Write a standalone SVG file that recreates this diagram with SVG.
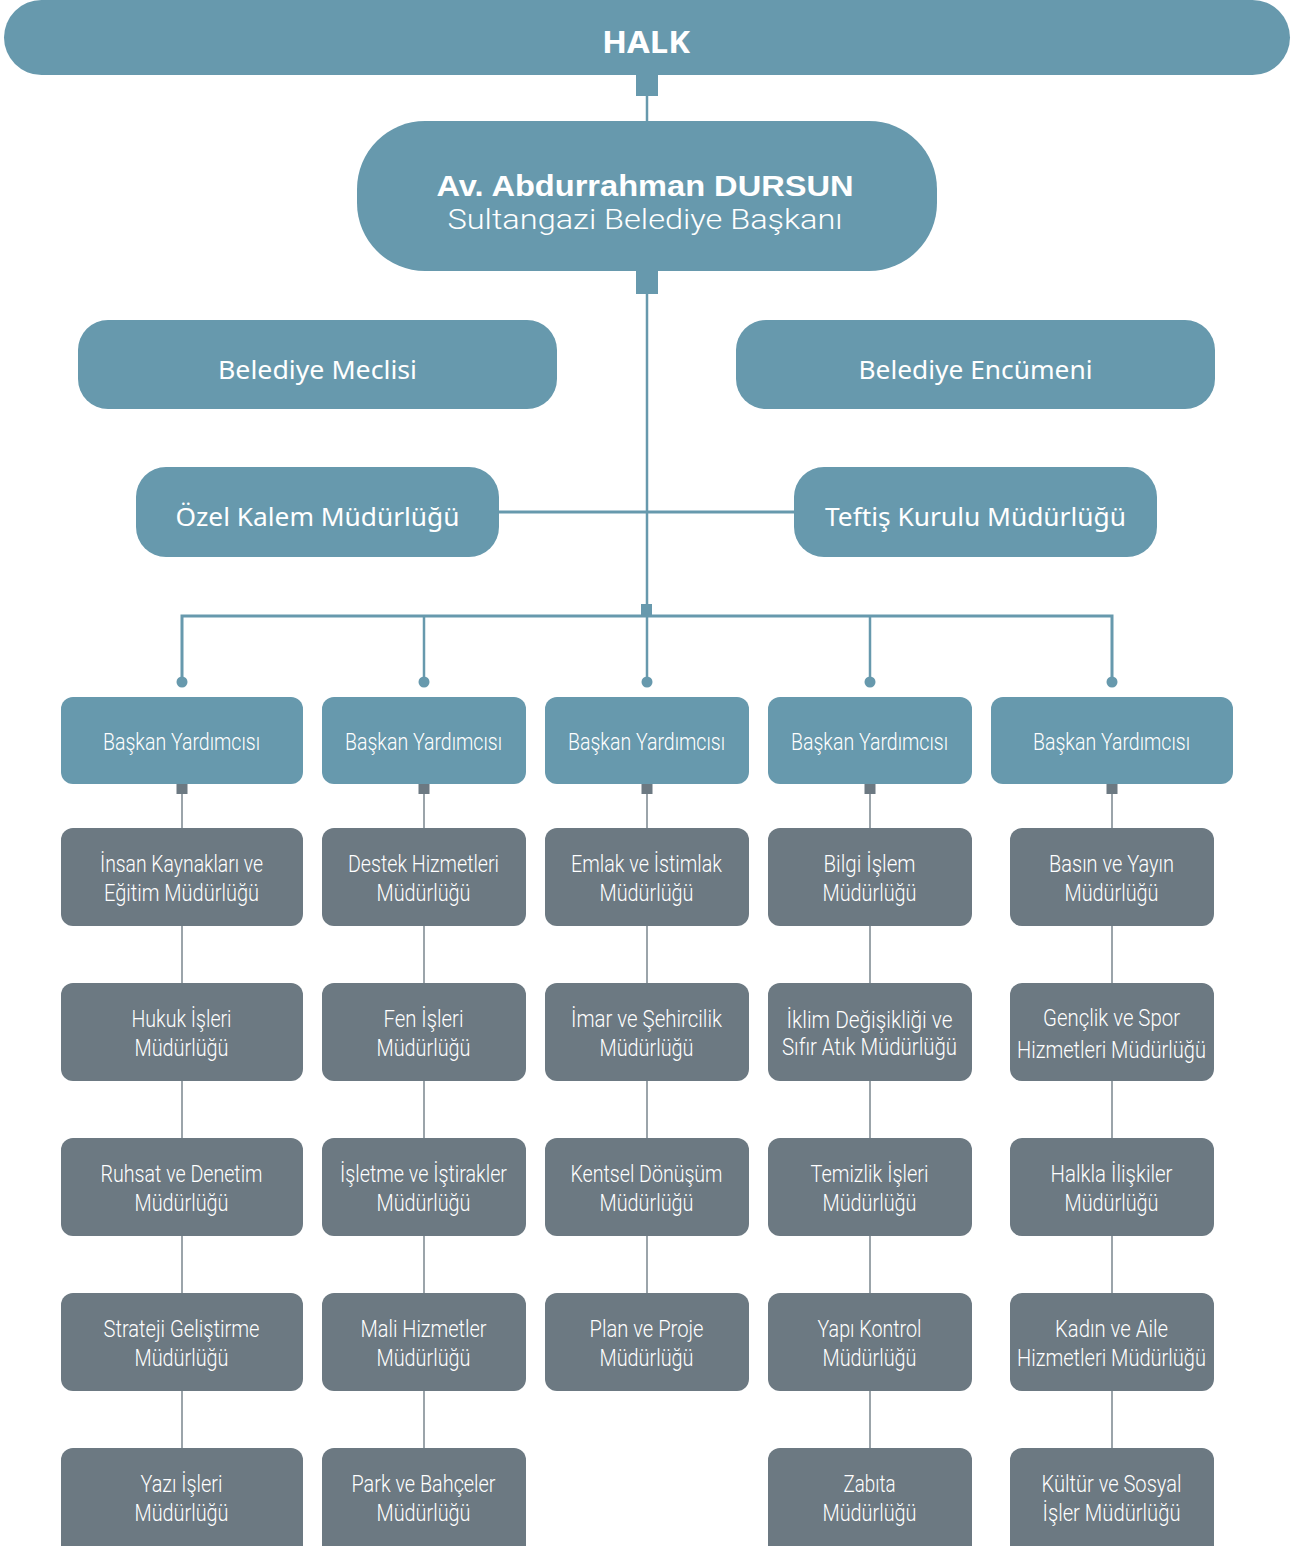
<svg xmlns="http://www.w3.org/2000/svg" width="1295" height="1546" viewBox="0 0 1295 1546">
<style>
.teal{fill:#6799ad}
.grey{fill:#6c7982}
.t{fill:#ffffff;text-anchor:middle}
.big{font-family:"Noto Sans","Open Sans",sans-serif;font-size:26px}
.cond{font-family:Roboto,"Liberation Sans",sans-serif;font-weight:300;font-size:24px}
.lnT{stroke:#6799ad;fill:none}
.lnG{stroke:#9ba4aa;stroke-width:2;fill:none}
</style>
<rect width="1295" height="1546" fill="#ffffff"/>
<g id="connectors">
  <line class="lnT" x1="647" y1="90" x2="647" y2="125" stroke-width="2.5"/>
  <line class="lnT" x1="647" y1="290" x2="647" y2="682" stroke-width="2.5"/>
  <line class="lnT" x1="495" y1="512" x2="798" y2="512" stroke-width="3"/>
  <polyline class="lnT" points="182,682 182,616 1112,616 1112,682" stroke-width="3"/>
  <line class="lnT" x1="424" y1="616" x2="424" y2="682" stroke-width="2.5"/>
  <line class="lnT" x1="870" y1="616" x2="870" y2="682" stroke-width="2.5"/>
  <rect class="teal" x="636" y="75" width="22" height="21"/>
  <rect class="teal" x="636" y="266" width="22" height="28"/>
  <rect class="teal" x="641" y="604" width="11" height="12"/>
  <g class="teal">
    <circle cx="182" cy="682" r="5.5"/>
    <circle cx="424" cy="682" r="5.5"/>
    <circle cx="647" cy="682" r="5.5"/>
    <circle cx="870" cy="682" r="5.5"/>
    <circle cx="1112" cy="682" r="5.5"/>
  </g>
  <line class="lnG" x1="182" y1="790" x2="182" y2="1450"/>
  <line class="lnG" x1="424" y1="790" x2="424" y2="1450"/>
  <line class="lnG" x1="647" y1="790" x2="647" y2="1295"/>
  <line class="lnG" x1="870" y1="790" x2="870" y2="1450"/>
  <line class="lnG" x1="1112" y1="790" x2="1112" y2="1450"/>
  <g class="grey">
    <rect x="176.5" y="783" width="11" height="11"/>
    <rect x="418.5" y="783" width="11" height="11"/>
    <rect x="641.5" y="783" width="11" height="11"/>
    <rect x="864.5" y="783" width="11" height="11"/>
    <rect x="1106.5" y="783" width="11" height="11"/>
  </g>
</g>
<g id="halk">
  <rect class="teal" x="4" y="0" width="1286" height="75" rx="37.5"/>
  <text class="t" x="646" y="53" font-family="'Noto Sans','Open Sans',sans-serif" font-size="30" font-weight="bold" textLength="88" lengthAdjust="spacingAndGlyphs">HALK</text>
</g>
<g id="baskan">
  <rect class="teal" x="357" y="121" width="580" height="150" rx="68"/>
  <text class="t" x="645" y="196" font-family="'Liberation Sans',Arial,sans-serif" font-size="29" font-weight="bold" textLength="417" lengthAdjust="spacingAndGlyphs">Av. Abdurrahman DURSUN</text>
  <text class="t" x="645" y="229" font-family="Roboto,'Liberation Sans',sans-serif" font-size="28" font-weight="300" textLength="395" lengthAdjust="spacingAndGlyphs">Sultangazi Belediye Başkanı</text>
</g>
<g id="meclis">
  <rect class="teal" x="78" y="320" width="479" height="89" rx="30"/>
  <text class="t big" x="317.5" y="379" textLength="199" lengthAdjust="spacingAndGlyphs">Belediye Meclisi</text>
</g>
<g id="encumen">
  <rect class="teal" x="736" y="320" width="479" height="89" rx="30"/>
  <text class="t big" x="975.5" y="379" textLength="234" lengthAdjust="spacingAndGlyphs">Belediye Encümeni</text>
</g>
<g id="ozelkalem">
  <rect class="teal" x="136" y="467" width="363" height="90" rx="30"/>
  <text class="t big" x="317.5" y="526" textLength="284" lengthAdjust="spacingAndGlyphs">Özel Kalem Müdürlüğü</text>
</g>
<g id="teftis">
  <rect class="teal" x="794" y="467" width="363" height="90" rx="30"/>
  <text class="t big" x="975.5" y="526" textLength="301" lengthAdjust="spacingAndGlyphs">Teftiş Kurulu Müdürlüğü</text>
</g>
<g id="by1"><rect class="teal" x="61" y="697" width="242" height="87" rx="12"/><text class="t cond" x="181.5" y="750" textLength="157" lengthAdjust="spacingAndGlyphs">Başkan Yardımcısı</text></g>
<g id="by2"><rect class="teal" x="322" y="697" width="204" height="87" rx="12"/><text class="t cond" x="423.5" y="750" textLength="157" lengthAdjust="spacingAndGlyphs">Başkan Yardımcısı</text></g>
<g id="by3"><rect class="teal" x="545" y="697" width="204" height="87" rx="12"/><text class="t cond" x="646.5" y="750" textLength="157" lengthAdjust="spacingAndGlyphs">Başkan Yardımcısı</text></g>
<g id="by4"><rect class="teal" x="768" y="697" width="204" height="87" rx="12"/><text class="t cond" x="869.5" y="750" textLength="157" lengthAdjust="spacingAndGlyphs">Başkan Yardımcısı</text></g>
<g id="by5"><rect class="teal" x="991" y="697" width="242" height="87" rx="12"/><text class="t cond" x="1111.5" y="750" textLength="157" lengthAdjust="spacingAndGlyphs">Başkan Yardımcısı</text></g>

<g id="c1r1"><rect class="grey" x="61" y="828" width="242" height="98" rx="12"/><text class="t cond" x="181.5" y="872" textLength="163" lengthAdjust="spacingAndGlyphs">İnsan Kaynakları ve</text><text class="t cond" x="181.5" y="901" textLength="155" lengthAdjust="spacingAndGlyphs">Eğitim Müdürlüğü</text></g>
<g id="c1r2"><rect class="grey" x="61" y="983" width="242" height="98" rx="12"/><text class="t cond" x="181.5" y="1027" textLength="100" lengthAdjust="spacingAndGlyphs">Hukuk İşleri</text><text class="t cond" x="181.5" y="1056" textLength="94" lengthAdjust="spacingAndGlyphs">Müdürlüğü</text></g>
<g id="c1r3"><rect class="grey" x="61" y="1138" width="242" height="98" rx="12"/><text class="t cond" x="181.5" y="1182" textLength="162" lengthAdjust="spacingAndGlyphs">Ruhsat ve Denetim</text><text class="t cond" x="181.5" y="1211" textLength="94" lengthAdjust="spacingAndGlyphs">Müdürlüğü</text></g>
<g id="c1r4"><rect class="grey" x="61" y="1293" width="242" height="98" rx="12"/><text class="t cond" x="181.5" y="1337" textLength="156" lengthAdjust="spacingAndGlyphs">Strateji Geliştirme</text><text class="t cond" x="181.5" y="1366" textLength="94" lengthAdjust="spacingAndGlyphs">Müdürlüğü</text></g>
<g id="c1r5"><rect class="grey" x="61" y="1448" width="242" height="110" rx="12"/><text class="t cond" x="181.5" y="1492" textLength="82" lengthAdjust="spacingAndGlyphs">Yazı İşleri</text><text class="t cond" x="181.5" y="1521" textLength="94" lengthAdjust="spacingAndGlyphs">Müdürlüğü</text></g>

<g id="c2r1"><rect class="grey" x="322" y="828" width="204" height="98" rx="12"/><text class="t cond" x="423.5" y="872" textLength="151" lengthAdjust="spacingAndGlyphs">Destek Hizmetleri</text><text class="t cond" x="423.5" y="901" textLength="94" lengthAdjust="spacingAndGlyphs">Müdürlüğü</text></g>
<g id="c2r2"><rect class="grey" x="322" y="983" width="204" height="98" rx="12"/><text class="t cond" x="423.5" y="1027" textLength="80" lengthAdjust="spacingAndGlyphs">Fen İşleri</text><text class="t cond" x="423.5" y="1056" textLength="94" lengthAdjust="spacingAndGlyphs">Müdürlüğü</text></g>
<g id="c2r3"><rect class="grey" x="322" y="1138" width="204" height="98" rx="12"/><text class="t cond" x="423.5" y="1182" textLength="167" lengthAdjust="spacingAndGlyphs">İşletme ve İştirakler</text><text class="t cond" x="423.5" y="1211" textLength="94" lengthAdjust="spacingAndGlyphs">Müdürlüğü</text></g>
<g id="c2r4"><rect class="grey" x="322" y="1293" width="204" height="98" rx="12"/><text class="t cond" x="423.5" y="1337" textLength="126" lengthAdjust="spacingAndGlyphs">Mali Hizmetler</text><text class="t cond" x="423.5" y="1366" textLength="94" lengthAdjust="spacingAndGlyphs">Müdürlüğü</text></g>
<g id="c2r5"><rect class="grey" x="322" y="1448" width="204" height="110" rx="12"/><text class="t cond" x="423.5" y="1492" textLength="144" lengthAdjust="spacingAndGlyphs">Park ve Bahçeler</text><text class="t cond" x="423.5" y="1521" textLength="94" lengthAdjust="spacingAndGlyphs">Müdürlüğü</text></g>

<g id="c3r1"><rect class="grey" x="545" y="828" width="204" height="98" rx="12"/><text class="t cond" x="646.5" y="872" textLength="151" lengthAdjust="spacingAndGlyphs">Emlak ve İstimlak</text><text class="t cond" x="646.5" y="901" textLength="94" lengthAdjust="spacingAndGlyphs">Müdürlüğü</text></g>
<g id="c3r2"><rect class="grey" x="545" y="983" width="204" height="98" rx="12"/><text class="t cond" x="646.5" y="1027" textLength="151" lengthAdjust="spacingAndGlyphs">İmar ve Şehircilik</text><text class="t cond" x="646.5" y="1056" textLength="94" lengthAdjust="spacingAndGlyphs">Müdürlüğü</text></g>
<g id="c3r3"><rect class="grey" x="545" y="1138" width="204" height="98" rx="12"/><text class="t cond" x="646.5" y="1182" textLength="152" lengthAdjust="spacingAndGlyphs">Kentsel Dönüşüm</text><text class="t cond" x="646.5" y="1211" textLength="94" lengthAdjust="spacingAndGlyphs">Müdürlüğü</text></g>
<g id="c3r4"><rect class="grey" x="545" y="1293" width="204" height="98" rx="12"/><text class="t cond" x="646.5" y="1337" textLength="114" lengthAdjust="spacingAndGlyphs">Plan ve Proje</text><text class="t cond" x="646.5" y="1366" textLength="94" lengthAdjust="spacingAndGlyphs">Müdürlüğü</text></g>

<g id="c4r1"><rect class="grey" x="768" y="828" width="204" height="98" rx="12"/><text class="t cond" x="869.5" y="872" textLength="92" lengthAdjust="spacingAndGlyphs">Bilgi İşlem</text><text class="t cond" x="869.5" y="901" textLength="94" lengthAdjust="spacingAndGlyphs">Müdürlüğü</text></g>
<g id="c4r2"><rect class="grey" x="768" y="983" width="204" height="98" rx="12"/><text class="t cond" x="869.5" y="1028" textLength="166" lengthAdjust="spacingAndGlyphs">İklim Değişikliği ve</text><text class="t cond" x="869.5" y="1055" textLength="175" lengthAdjust="spacingAndGlyphs">Sıfır Atık Müdürlüğü</text></g>
<g id="c4r3"><rect class="grey" x="768" y="1138" width="204" height="98" rx="12"/><text class="t cond" x="869.5" y="1182" textLength="118" lengthAdjust="spacingAndGlyphs">Temizlik İşleri</text><text class="t cond" x="869.5" y="1211" textLength="94" lengthAdjust="spacingAndGlyphs">Müdürlüğü</text></g>
<g id="c4r4"><rect class="grey" x="768" y="1293" width="204" height="98" rx="12"/><text class="t cond" x="869.5" y="1337" textLength="104" lengthAdjust="spacingAndGlyphs">Yapı Kontrol</text><text class="t cond" x="869.5" y="1366" textLength="94" lengthAdjust="spacingAndGlyphs">Müdürlüğü</text></g>
<g id="c4r5"><rect class="grey" x="768" y="1448" width="204" height="110" rx="12"/><text class="t cond" x="869.5" y="1492" textLength="52" lengthAdjust="spacingAndGlyphs">Zabıta</text><text class="t cond" x="869.5" y="1521" textLength="94" lengthAdjust="spacingAndGlyphs">Müdürlüğü</text></g>

<g id="c5r1"><rect class="grey" x="1010" y="828" width="204" height="98" rx="12"/><text class="t cond" x="1111.5" y="872" textLength="125" lengthAdjust="spacingAndGlyphs">Basın ve Yayın</text><text class="t cond" x="1111.5" y="901" textLength="94" lengthAdjust="spacingAndGlyphs">Müdürlüğü</text></g>
<g id="c5r2"><rect class="grey" x="1010" y="983" width="204" height="98" rx="12"/><text class="t cond" x="1111.5" y="1026" textLength="137" lengthAdjust="spacingAndGlyphs">Gençlik ve Spor</text><text class="t cond" x="1111.5" y="1058" textLength="189" lengthAdjust="spacingAndGlyphs">Hizmetleri Müdürlüğü</text></g>
<g id="c5r3"><rect class="grey" x="1010" y="1138" width="204" height="98" rx="12"/><text class="t cond" x="1111.5" y="1182" textLength="122" lengthAdjust="spacingAndGlyphs">Halkla İlişkiler</text><text class="t cond" x="1111.5" y="1211" textLength="94" lengthAdjust="spacingAndGlyphs">Müdürlüğü</text></g>
<g id="c5r4"><rect class="grey" x="1010" y="1293" width="204" height="98" rx="12"/><text class="t cond" x="1111.5" y="1337" textLength="113" lengthAdjust="spacingAndGlyphs">Kadın ve Aile</text><text class="t cond" x="1111.5" y="1366" textLength="189" lengthAdjust="spacingAndGlyphs">Hizmetleri Müdürlüğü</text></g>
<g id="c5r5"><rect class="grey" x="1010" y="1448" width="204" height="110" rx="12"/><text class="t cond" x="1111.5" y="1492" textLength="140" lengthAdjust="spacingAndGlyphs">Kültür ve Sosyal</text><text class="t cond" x="1111.5" y="1521" textLength="138" lengthAdjust="spacingAndGlyphs">İşler Müdürlüğü</text></g>
</svg>
